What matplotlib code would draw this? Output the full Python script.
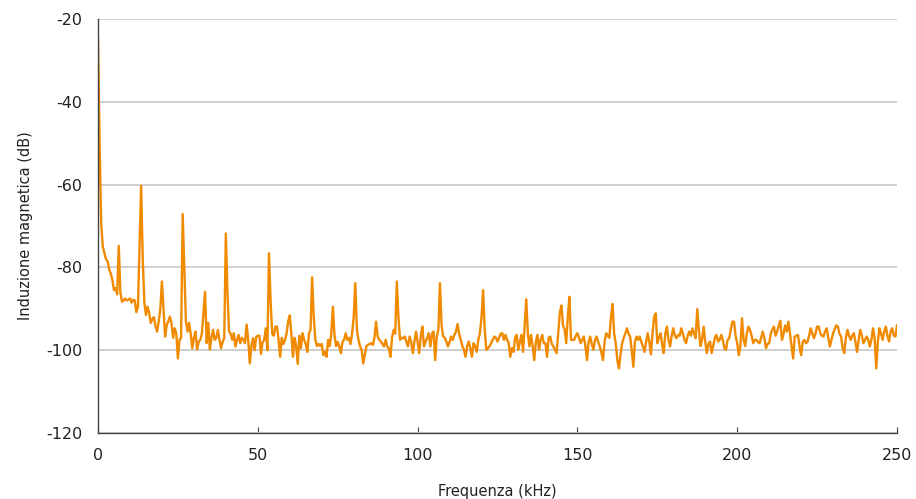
import numpy as np
import matplotlib
matplotlib.use("Agg")
import matplotlib.pyplot as plt

# frequency grid, kHz (0.5 kHz step)
freq_khz = np.arange(0, 250.01, 0.5)

# induction level, dB (one row per 10 kHz)
level_db = [
    -24.7, -50, -69.5, -75, -76.5, -78, -78.5, -80.5, -81.5, -83,
    -85.5, -85, -86.5, -74.8, -86, -88.3, -88, -87.5, -88, -87.8,
    # 10
    -87.5, -88.5, -87.8, -88, -90.8, -89.5, -75, -60.3, -78, -88.5,
    -91.5, -89.5, -91, -93.4, -92.5, -92, -94.2, -95.5, -93, -90,
    # 20
    -83.4, -90, -96.7, -94, -93, -91.9, -93.5, -97, -94.7, -96,
    -102, -97.5, -97, -67.1, -80, -93, -95.5, -93.4, -96, -99.5,
    # 30
    -97, -95.5, -99.8, -98, -97.5, -96, -91, -85.9, -98.3, -93.4,
    -99.8, -97, -95.1, -97.5, -97, -95.1, -97.5, -99.5, -98, -97,
    # 40
    -71.8, -86, -95.5, -96, -97.5, -95.9, -99.1, -97.5, -96.3, -98.3,
    -97, -97.5, -98.3, -93.8, -97.5, -103.2, -99, -97.1, -100, -96.8,
    # 50
    -96.5, -96.5, -100.9, -98, -97.5, -94.7, -100, -76.6, -88, -96,
    -96.5, -94.3, -94.3, -97.5, -101.6, -97, -98.5, -97.5, -96, -93,
    # 60
    -91.6, -96, -101.6, -97, -99, -103.3, -96.5, -99.5, -95.9, -97.5,
    -98.5, -100.4, -96, -95, -82.4, -92, -97.5, -99, -98.5, -99,
    # 70
    -98.5, -101.2, -100.4, -101.6, -97.5, -99, -95.9, -89.5, -96.5, -99,
    -98, -99.1, -100.7, -98, -97.5, -95.9, -97.5, -97, -98.5, -96,
    # 80
    -92, -83.8, -95, -97.5, -99.1, -100, -103.2, -101, -99, -98.7,
    -98.5, -98.3, -98.7, -97, -93.1, -96.7, -97.5, -97.9, -98.5, -99.1,
    # 90
    -97.5, -99.1, -99.5, -101.6, -97, -95.1, -96, -83.4, -92, -97.5,
    -97, -97.1, -96.7, -98, -99.1, -96.7, -98, -100.7, -98, -95.5,
    # 100
    -98, -100.7, -96.5, -94.3, -99.1, -97.9, -97, -95.9, -99.1, -96,
    -95.5, -102.4, -96.7, -95, -83.8, -94, -96.7, -97, -97.9, -99.1,
    # 110
    -98, -96.7, -97.5, -96.3, -95.5, -93.7, -96, -97.5, -99, -99.9,
    -101.6, -99, -97.9, -99.5, -101.6, -98.3, -99, -100.4, -97.5, -95.9,
    # 120
    -92, -85.5, -95, -99.9, -99.5, -99.1, -98.3, -97.5, -96.7, -97,
    -97.9, -97, -96, -95.9, -97.5, -96.3, -97.5, -98.3, -101.6, -99.5,
    # 130
    -100.4, -97, -96.3, -99.9, -98, -96.3, -100.4, -94, -87.7, -96,
    -99.1, -96.3, -99, -102.4, -98, -96.3, -99.9, -97.5, -96.3, -98.3,
    # 140
    -98.3, -101.6, -97, -96.7, -98.5, -99.1, -99.9, -100.7, -95.9, -91,
    -89.2, -94, -95, -98.3, -92, -87.1, -97.5, -97.5, -97.5, -96.5,
    # 150
    -95.9, -97, -98.3, -97.5, -96.7, -99, -102.4, -98, -96.7, -98.5,
    -99.9, -97.5, -96.7, -98, -99.1, -100.5, -102.4, -98, -95.9, -96.5,
    # 160
    -97, -92, -88.8, -96, -98.3, -102.4, -104.4, -101, -98.3, -97,
    -96, -94.7, -96, -96.7, -100, -104, -98, -96.7, -97.5, -96.7,
    # 170
    -98, -99.1, -100.4, -98, -95.9, -98, -101, -96, -92, -91.1,
    -98.3, -97, -95.9, -98.5, -100.7, -96, -94.3, -97.5, -99.1, -96.5,
    # 180
    -94.7, -96.5, -97.1, -96.3, -96.5, -94.7, -96, -97.5, -98.3, -96.5,
    -95.5, -96.5, -94.7, -96, -97.1, -90.1, -95, -99, -97.5, -94.3,
    # 190
    -98, -100.7, -98.5, -97.9, -100.7, -99, -97, -96.3, -97.9, -97.5,
    -96.3, -97.5, -99.5, -99.9, -97.5, -97.1, -95, -93.1, -93.1, -96.5,
    # 200
    -98.3, -101.2, -99, -92.3, -97.5, -99, -96, -94.3, -95.1, -96.5,
    -98.3, -97.5, -97.5, -98, -98.3, -97, -95.5, -97, -99.5, -98.5,
    # 210
    -98.3, -96, -95, -94.3, -96.5, -95.5, -94, -92.9, -97.5, -96,
    -94, -95.5, -93.1, -95.9, -99, -102, -96.7, -96.5, -96.3, -99,
    # 220
    -101.2, -98, -97.5, -98.3, -98, -96.5, -94.7, -96, -97.1, -96,
    -94.3, -94.3, -95.9, -96.5, -96.7, -95.5, -94.7, -97, -99.1, -97.5,
    # 230
    -95.9, -95, -94, -94.3, -96, -96.7, -99.5, -100.7, -97, -95.1,
    -96.5, -97.5, -96.5, -95.9, -98, -100.4, -97.5, -95.1, -96.5, -98.3,
    # 240
    -97.5, -96.7, -97.5, -99.1, -97.5, -94.7, -97, -104.4, -98, -94.7,
    -96, -97.5, -95.5, -94.3, -96.5, -97.9, -95.5, -94.7, -96.5, -96.7,
    -94,
]

y_ticks = [-120, -100, -80, -60, -40, -20]
x_ticks = [0, 50, 100, 150, 200, 250]

plt.rcParams['font.family'] = ['DejaVu Sans']
plt.rcParams['axes.unicode_minus'] = False

fig = plt.figure(figsize=(9.16, 4.99), dpi=100)
ax = fig.add_axes([98 / 916, 66 / 499, 799 / 916, 414 / 499])

ax.plot(freq_khz, level_db, color='#F08A00', lw=1.7, solid_joinstyle='round')

ax.set_xlim(0, 250)
ax.set_ylim(-120, -20)
ax.set_xticks(x_ticks)
ax.set_yticks(y_ticks)
ax.yaxis.grid(True, color='#cccccc', lw=1.3)
ax.set_axisbelow(True)

for s in ['top', 'right']:
    ax.spines[s].set_visible(False)
ax.spines['left'].set_color('#444444')
ax.spines['bottom'].set_color('#444444')
ax.spines['left'].set_linewidth(1.0)
ax.spines['bottom'].set_linewidth(1.0)

ax.tick_params(axis='y', length=0, pad=11, labelsize=11.5, colors='#222222')
ax.tick_params(axis='x', direction='in', length=4, width=0.8, pad=11,
               labelsize=11.5, colors='#444444', labelcolor='#222222')

ax.set_xlabel('Frequenza (kHz)', fontsize=10.5, color='#222222', labelpad=15)
ax.set_ylabel('Induzione magnetica (dB)', fontsize=10.5, color='#222222', labelpad=10)

fig.savefig('out.png', dpi=100)
